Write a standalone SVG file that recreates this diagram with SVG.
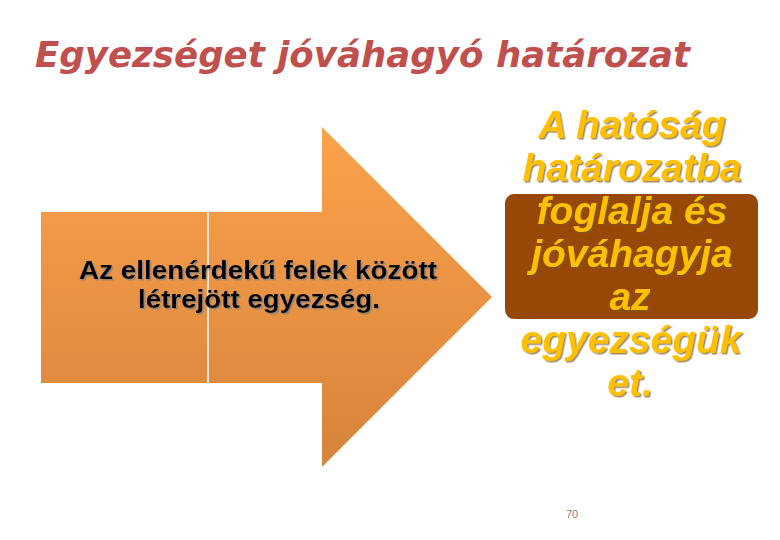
<svg xmlns="http://www.w3.org/2000/svg" width="780" height="540" viewBox="0 0 780 540">
<defs>
<linearGradient id="arrowGrad" gradientUnits="userSpaceOnUse" x1="0" y1="127" x2="0" y2="467">
<stop offset="0" stop-color="#FCA24B"/>
<stop offset="1" stop-color="#D6833C"/>
</linearGradient>
<filter id="shadowDark" x="-10%" y="-20%" width="120%" height="140%">
<feDropShadow dx="1.5" dy="1.5" stdDeviation="0.6" flood-color="#7a5a2a" flood-opacity="0.7"/>
</filter>
<filter id="shadowGray" x="-10%" y="-20%" width="120%" height="140%">
<feDropShadow dx="1.5" dy="1.5" stdDeviation="0.6" flood-color="#808080" flood-opacity="0.8"/>
</filter>
</defs>
<style>
.title{font-family:"DejaVu Sans",Verdana,sans-serif;font-weight:bold;font-style:italic;fill:#C0504D;font-size:35px}
.lt{font-family:"Liberation Sans",Arial,sans-serif;font-weight:bold;font-size:26px;fill:#000;text-anchor:middle;filter:url(#shadowGray)}
.rt{font-family:"Liberation Sans",Arial,sans-serif;font-weight:bold;font-style:italic;font-size:39px;fill:#FFC000;text-anchor:middle;filter:url(#shadowDark)}
.pg{font-family:"Liberation Sans",Arial,sans-serif;font-size:11px;fill:#7f7f7f;text-anchor:middle}
</style>
<rect width="780" height="540" fill="#ffffff"/>
<text class="title" x="35" y="67" textLength="655" lengthAdjust="spacingAndGlyphs">Egyezséget jóváhagyó határozat</text>
<g id="arrow">
<polygon points="41,212 322,212 322,127 492,297 322,467 322,383 41,383" fill="url(#arrowGrad)"/>
<line x1="208" y1="212" x2="208" y2="383" stroke="#ffffff" stroke-width="1.5"/>
<text class="lt" x="258" y="279" textLength="358" lengthAdjust="spacingAndGlyphs">Az ellenérdekű felek között</text>
<text class="lt" x="259" y="308" textLength="242" lengthAdjust="spacingAndGlyphs">létrejött egyezség.</text>
</g>
<g id="result">
<rect x="505" y="194" width="253" height="125" rx="9" ry="9" fill="#974806"/>
<text class="rt" x="632" y="138">A hatóság</text>
<text class="rt" x="632" y="181">határozatba</text>
<text class="rt" x="632" y="224">foglalja és</text>
<text class="rt" x="632" y="267">jóváhagyja</text>
<text class="rt" x="630" y="310">az</text>
<text class="rt" x="631" y="353">egyezségük</text>
<text class="rt" x="630" y="396">et.</text>
</g>
<g id="connectors"/>
<text class="pg" x="572" y="518">70</text>
</svg>
